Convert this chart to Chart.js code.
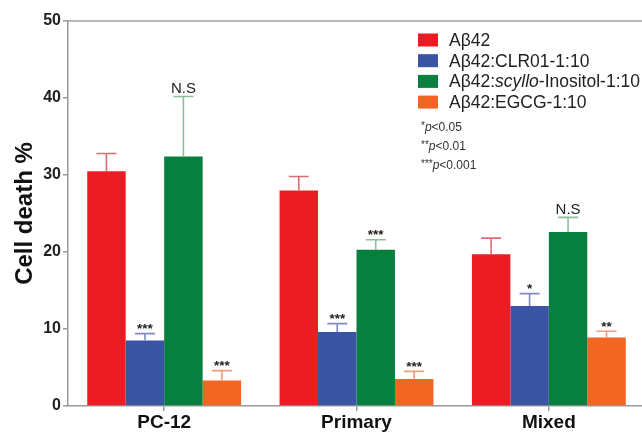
<!DOCTYPE html>
<html>
<head>
<meta charset="utf-8">
<script src="https://cdn.jsdelivr.net/npm/chart.js@4.4.0/dist/chart.umd.min.js"></script>
<style>
html,body{margin:0;padding:0;background:#fff;overflow:hidden;}
#wrap{width:645px;height:432px;}
</style>
</head>
<body>
<div id="wrap"><canvas id="c" width="645" height="432"></canvas></div>
<script>
const categories = ['PC-12', 'Primary', 'Mixed'];
const yTicks = [0, 10, 20, 30, 40, 50];

const abeta42 = [30.5, 28.0, 19.7];
const clr01 = [8.5, 9.6, 13.0];
const scyllo = [32.4, 20.3, 22.6];
const egcg = [3.3, 3.5, 8.9];

const abeta42Err = [2.3, 1.8, 2.1];
const clr01Err = [0.9, 1.1, 1.6];
const scylloErr = [7.8, 1.3, 1.9];
const egcgErr = [1.3, 1.0, 0.8];

const abeta42Sig = ['', '', ''];
const clr01Sig = ['***', '***', '*'];
const scylloSig = ['N.S', '***', 'N.S'];
const egcgSig = ['***', '***', '**'];

const seriesLabels = ['Aβ42', 'Aβ42:CLR01-1:10', 'Aβ42:scyllo-Inositol-1:10', 'Aβ42:EGCG-1:10'];
const legendParts = [
  [['Aβ42', false]],
  [['Aβ42:CLR01-1:10', false]],
  [['Aβ42:', false], ['scyllo', true], ['-Inositol-1:10', false]],
  [['Aβ42:EGCG-1:10', false]]
];
const pNotes = [['*', '<0.05'], ['**', '<0.01'], ['***', '<0.001']];

const colors = ['#EC1C24', '#3A53A3', '#07803F', '#F26522'];
const errColors = ['#DD6C74', '#7C8BC6', '#8CC09C', '#F39A78'];
const errs = [abeta42Err, clr01Err, scylloErr, egcgErr];
const sigs = [abeta42Sig, clr01Sig, scylloSig, egcgSig];

const FONT = '"Liberation Sans", Arial, sans-serif';

const errorPlugin = {
  id: 'errs',
  afterDatasetsDraw(chart) {
    const ctx = chart.ctx;
    const ys = chart.scales.y;
    chart.data.datasets.forEach((ds, di) => {
      const meta = chart.getDatasetMeta(di);
      meta.data.forEach((el, i) => {
        const v = ds.data[i];
        const top = ys.getPixelForValue(v + errs[di][i]);
        ctx.save();
        ctx.strokeStyle = errColors[di];
        ctx.lineWidth = 1.6;
        ctx.beginPath();
        ctx.moveTo(el.x, el.y);
        ctx.lineTo(el.x, top);
        ctx.moveTo(el.x - 10, top);
        ctx.lineTo(el.x + 10, top);
        ctx.stroke();
        const s = sigs[di][i];
        if (s) {
          ctx.fillStyle = '#222';
          ctx.textAlign = 'center';
          ctx.textBaseline = 'alphabetic';
          if (s === 'N.S') {
            ctx.font = '15px ' + FONT;
            ctx.fillText(s, el.x, top - 3);
          } else {
            ctx.font = 'bold 13.5px ' + FONT;
            ctx.fillText(s, el.x, top - 0.5);
          }
        }
        ctx.restore();
      });
    });
  },
  afterDraw(chart) {
    const ctx = chart.ctx;
    const a = chart.chartArea;
    ctx.save();
    // top frame line
    ctx.strokeStyle = '#A0A0A0';
    ctx.lineWidth = 1.5;
    ctx.beginPath();
    ctx.moveTo(a.left, a.top);
    ctx.lineTo(a.right, a.top);
    ctx.stroke();
    // legend
    const lx = 418, ly0 = 40, step = 20.7;
    legendParts.forEach((parts, k) => {
      const cy = ly0 + k * step;
      ctx.fillStyle = colors[k];
      ctx.fillRect(lx, cy - 6.5, 20, 13);
      let x = 449;
      ctx.fillStyle = '#222';
      ctx.textBaseline = 'middle';
      ctx.textAlign = 'left';
      parts.forEach(([t, it]) => {
        ctx.font = (it ? 'italic ' : '') + '17.5px ' + FONT;
        ctx.fillText(t, x, cy + 1);
        x += ctx.measureText(t).width;
      });
    });
    // p-value notes
    const py = [128, 147, 166];
    pNotes.forEach(([st, rest], k) => {
      let x = 421;
      ctx.fillStyle = '#333';
      ctx.textBaseline = 'middle';
      ctx.font = '10px ' + FONT;
      ctx.fillText(st, x, py[k] - 2);
      x += ctx.measureText(st).width;
      ctx.font = 'italic 12px ' + FONT;
      ctx.fillText('p', x, py[k]);
      x += ctx.measureText('p').width;
      ctx.font = '12px ' + FONT;
      ctx.fillText(rest, x, py[k]);
    });
    ctx.restore();
  }
};

const seriesData = [abeta42, clr01, scyllo, egcg];

new Chart(document.getElementById('c'), {
  type: 'bar',
  data: {
    labels: categories,
    datasets: seriesData.map((d, k) => ({
      label: seriesLabels[k],
      data: d,
      backgroundColor: colors[k],
      borderWidth: 0,
      categoryPercentage: 0.8,
      barPercentage: 1.0
    }))
  },
  options: {
    responsive: false,
    animation: false,
    layout: { padding: { top: 21, right: 0, left: 0, bottom: 0 } },
    plugins: { legend: { display: false }, tooltip: { enabled: false } },
    scales: {
      x: {
        offset: true,
        grid: { display: true, drawOnChartArea: false, drawTicks: true, tickLength: 5, offset: false, color: '#999', lineWidth: 1.5 },
        border: { display: true, color: '#999', width: 1.5 },
        ticks: { color: '#111', font: { family: FONT, size: 19, weight: 'bold' }, padding: 0 },
        afterFit(s) { s.height = 26; }
      },
      y: {
        min: 0, max: 50,
        afterBuildTicks(s) { s.ticks = yTicks.map(v => ({ value: v })); },
        grid: { display: true, drawOnChartArea: false, drawTicks: true, tickLength: 5, color: '#999', lineWidth: 1.5 },
        border: { display: true, color: '#999', width: 1.5 },
        ticks: { color: '#222', font: { family: FONT, size: 16, weight: 'bold' }, padding: 2 },
        title: { display: true, text: 'Cell death %', color: '#111', font: { family: FONT, size: 24, weight: 'bold', lineHeight: 1.2 }, padding: { top: 11, bottom: 0 } },
        afterFit(s) { s.width = 68; }
      }
    }
  },
  plugins: [errorPlugin]
});
</script>
</body>
</html>
